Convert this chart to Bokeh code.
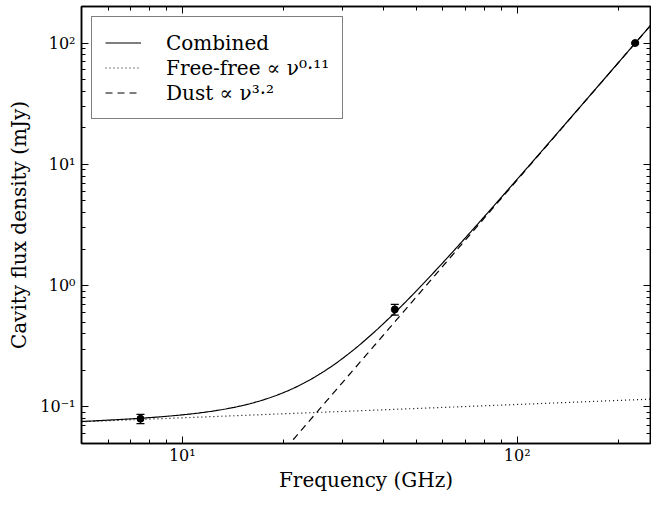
import numpy as np
from bokeh.plotting import figure
from bokeh.models import (LogAxis, FixedTicker, CustomJSTickFormatter, Whisker,
                          TeeHead, ColumnDataSource, Legend, LegendItem)
from bokeh.embed import file_html
from bokeh.resources import INLINE

# ---- data -------------------------------------------------------------
freq_ghz = [7.5, 43.1, 225.0]
flux_mjy = [0.080, 0.637, 100.0]
flux_err = [0.007, 0.065, 1.5]

# power-law model components (S = norm * nu^index, nu in GHz, S in mJy)
ff_norm = 0.0632
ff_index = 0.11
dust_norm = 2.96e-6
dust_index = 3.2

x_major = [10, 100]
y_major = [0.1, 1, 10, 100]

legend_labels = ["Combined", "Free-free \u221d \u03bd\u2070\u00b7\u00b9\u00b9", "Dust \u221d \u03bd\u00b3\u00b7\u00b2"]

FONT = "'DejaVu Serif'"

# ---- model curves -----------------------------------------------------
nu = np.geomspace(5, 250, 400)
ff = ff_norm * nu ** ff_index
dust = dust_norm * nu ** dust_index
comb = ff + dust

def minor_of(lo_dec, hi_dec):
    return [m * 10.0 ** d for d in range(lo_dec, hi_dec) for m in range(2, 10)]

x_minor = minor_of(0, 3)
y_minor = minor_of(-2, 3)

p = figure(width=651, height=494, x_axis_type="log", y_axis_type="log",
           x_range=(5, 250), y_range=(0.05, 200),
           output_backend="svg", toolbar_location=None,
           min_border_left=81, min_border_right=1, min_border_top=6,
           min_border_bottom=40)
p.grid.visible = False
p.outline_line_color = "black"
p.outline_line_width = 1.5

sup = CustomJSTickFormatter(code="""
const s = {'0':'\u2070','1':'\u00b9','2':'\u00b2','3':'\u00b3','4':'\u2074','5':'\u2075',
           '6':'\u2076','7':'\u2077','8':'\u2078','9':'\u2079','-':'\u207b'};
const e = String(Math.round(Math.log10(tick)));
let out = '10';
for (const c of e) { out += s[c]; }
return out;
""")
blank = CustomJSTickFormatter(code="return '';")

def style(ax, labels=True):
    ax.axis_line_width = 1.5
    ax.axis_line_color = "black"
    ax.major_tick_in = 7
    ax.major_tick_out = 0
    ax.minor_tick_in = 4
    ax.minor_tick_out = 0
    ax.major_tick_line_width = 1
    ax.minor_tick_line_width = 1
    ax.major_tick_line_color = "black"
    ax.minor_tick_line_color = "black"
    if labels:
        ax.major_label_text_font = FONT
        ax.major_label_text_font_size = "16px"
        ax.major_label_text_color = "black"
        ax.axis_label_text_font = FONT
        ax.axis_label_text_font_size = "20px"
        ax.axis_label_text_font_style = "normal"
        ax.axis_label_text_color = "black"
    else:
        ax.major_label_text_font_size = "0px"
        ax.major_label_standoff = 0

xa = p.xaxis[0]
xa.ticker = FixedTicker(ticks=x_major, minor_ticks=x_minor)
xa.formatter = sup
xa.axis_label = "Frequency (GHz)"
style(xa)
xa.major_label_standoff = 2
xa.axis_label_standoff = 0

ya = p.yaxis[0]
ya.ticker = FixedTicker(ticks=y_major, minor_ticks=y_minor)
ya.formatter = sup
ya.axis_label = "Cavity flux density (mJy)"
style(ya)
ya.major_label_standoff = 6
ya.axis_label_standoff = 6

top = LogAxis(ticker=FixedTicker(ticks=x_major, minor_ticks=x_minor), formatter=blank)
style(top, labels=False)
p.add_layout(top, "above")
right = LogAxis(ticker=FixedTicker(ticks=y_major, minor_ticks=y_minor), formatter=blank)
style(right, labels=False)
p.add_layout(right, "right")

r_comb = p.line(nu, comb, line_color="black", line_width=1.2)
r_ff = p.line(nu, ff, line_color="black", line_width=1.2, line_dash="1 3")
r_dust = p.line(nu, dust, line_color="black", line_width=1.2, line_dash="7 5")

src = ColumnDataSource(dict(
    x=freq_ghz, y=flux_mjy,
    upper=[v + e for v, e in zip(flux_mjy, flux_err)],
    lower=[v - e for v, e in zip(flux_mjy, flux_err)]))
p.add_layout(Whisker(base="x", upper="upper", lower="lower", source=src,
                     line_color="black", line_width=1.2,
                     upper_head=TeeHead(size=8, line_width=1.2, line_color="black"),
                     lower_head=TeeHead(size=8, line_width=1.2, line_color="black")))
p.scatter("x", "y", source=src, size=7, color="black")

legend = Legend(items=[LegendItem(label=legend_labels[0], renderers=[r_comb]),
                       LegendItem(label=legend_labels[1], renderers=[r_ff]),
                       LegendItem(label=legend_labels[2], renderers=[r_dust])],
                location="top_left")
legend.label_text_font = FONT
legend.label_text_font_size = "20px"
legend.label_text_color = "black"
legend.glyph_width = 36
legend.glyph_height = 25
legend.label_height = 25
legend.spacing = 0
legend.padding = 13
legend.margin = 10
legend.label_standoff = 25
legend.border_line_color = "black"
legend.border_line_width = 1.2
legend.background_fill_alpha = 1
p.add_layout(legend)

open("out.html", "w").write(file_html(p, INLINE))
